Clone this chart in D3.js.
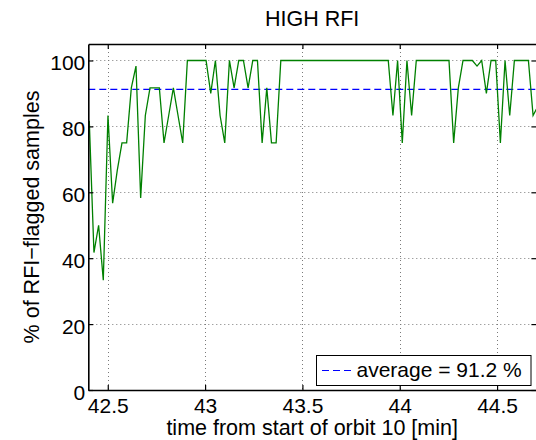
<!DOCTYPE html>
<html>
<head>
<meta charset="utf-8">
<script src="https://cdn.jsdelivr.net/npm/d3@7"></script>
<style>
  html, body { margin: 0; padding: 0; background: #fff; }
  svg { display: block; }
  text { font-family: "Liberation Sans", Arial, Helvetica, sans-serif; fill: #000; }
</style>
</head>
<body>
<svg id="chart" width="536" height="440"></svg>
<script>
// ---- data ----
const title = "HIGH RFI";
const xLabel = "time from start of orbit 10 [min]";
const yLabel = "% of RFI\u2212flagged samples";
const startTime = 42.405;      // minutes, first sample
const sampleStep = 0.024;      // minutes between samples
const flagged = [
  81.7, 41.7, 50, 33.3, 83.3, 56.7, 66.7, 75, 75, 91.7,
  98.3, 58.3, 83.3, 91.7, 91.7, 91.7, 75, 83.3, 91.7, 83.3,
  75, 100, 100, 100, 100, 100, 90, 100, 83.3, 75,
  100, 91.7, 100, 100, 91.7, 100, 100, 75, 91.7, 75,
  75, 100, 100, 100, 100, 100, 100, 100, 100, 100,
  100, 100, 100, 100, 100, 100, 100, 100, 100, 100,
  100, 100, 100, 100, 100, 83.3, 100, 75, 100, 83.3,
  100, 100, 100, 100, 100, 100, 100, 100, 75, 91.7,
  100, 100, 100, 98.3, 100, 90, 100, 100, 75, 100,
  83.3, 100, 100, 100, 100, 83.3, 86
];
const average = 91.2;
const legendLabel = "average = 91.2 %";
const xTicks = [42.5, 43, 43.5, 44, 44.5];
const yTicks = [0, 20, 40, 60, 80, 100];
const xDomain = [42.4, 44.7];
const yDomain = [0, 105];

// ---- layout ----
const svg = d3.select("#chart");
const L = 88.3, R = 536, T = 44, B = 390;
const x = d3.scaleLinear().domain(xDomain).range([L, R]);
const y = d3.scaleLinear().domain(yDomain).range([B, T]);
const points = flagged.map((v, i) => ({ t: startTime + i * sampleStep, v }));

svg.append("rect").attr("width", 536).attr("height", 440).attr("fill", "#fff");

svg.append("defs").append("clipPath").attr("id", "clip")
  .append("rect").attr("x", L).attr("y", T).attr("width", R - L).attr("height", B - T);

// grid
const grid = svg.append("g").attr("stroke", "#7a7a7a").attr("stroke-width", 1)
  .attr("stroke-dasharray", "1,3");
grid.selectAll(".gx").data(xTicks).join("line")
  .attr("x1", d => Math.round(x(d)) + 0.5).attr("x2", d => Math.round(x(d)) + 0.5)
  .attr("y1", T).attr("y2", B);
grid.selectAll(".gy").data(yTicks.filter(d => d > 0)).join("line")
  .attr("y1", d => Math.round(y(d)) + 0.5).attr("y2", d => Math.round(y(d)) + 0.5)
  .attr("x1", L).attr("x2", R - 6);

// average line
svg.append("line")
  .attr("x1", L).attr("x2", R)
  .attr("y1", y(average)).attr("y2", y(average))
  .attr("stroke", "#0000ff").attr("stroke-width", 1.2)
  .attr("stroke-dasharray", "7,4");

// data line
svg.append("path")
  .datum(points)
  .attr("clip-path", "url(#clip)")
  .attr("fill", "none")
  .attr("stroke", "#008000")
  .attr("stroke-width", 1.3)
  .attr("stroke-linejoin", "miter")
  .attr("d", d3.line().x(d => x(d.t)).y(d => y(d.v)));

// axes (box with inward ticks)
const tickLen = 5;
const fontTick = 21;
const axB = svg.append("g").attr("transform", `translate(0,${B})`)
  .call(d3.axisBottom(x).tickValues(xTicks).tickSizeInner(-tickLen).tickSizeOuter(0)
    .tickPadding(0).tickFormat(d3.format("")));
const axT = svg.append("g").attr("transform", `translate(0,${T})`)
  .call(d3.axisTop(x).tickValues(xTicks).tickSizeInner(-tickLen).tickSizeOuter(0).tickFormat(""));
const axL = svg.append("g").attr("transform", `translate(${L},0)`)
  .call(d3.axisLeft(y).tickValues(yTicks).tickSizeInner(-tickLen).tickSizeOuter(0)
    .tickPadding(0).tickFormat(d3.format("")));
const axR = svg.append("g").attr("transform", `translate(${R + 0.4},0)`)
  .call(d3.axisRight(y).tickValues(yTicks).tickSizeInner(-tickLen).tickSizeOuter(0).tickFormat(""));

[axB, axT, axL, axR].forEach(g => {
  g.select(".domain").attr("stroke", "#000").attr("stroke-width", 1.6);
  g.selectAll(".tick line").attr("stroke", "#000").attr("stroke-width", 1.2);
});
axB.selectAll(".tick text")
  .attr("font-size", fontTick).attr("font-family", "Liberation Sans, Arial, sans-serif")
  .attr("fill", "#000").attr("dy", null).attr("y", 23.3);
axL.selectAll(".tick text")
  .attr("font-size", fontTick).attr("font-family", "Liberation Sans, Arial, sans-serif")
  .attr("fill", "#000").attr("dy", null).attr("x", -3).attr("y", 9);

// title & labels
svg.append("text").attr("x", (L + R) / 2).attr("y", 26)
  .attr("text-anchor", "middle").attr("font-size", 21.5).text(title);
svg.append("text").attr("x", (L + R) / 2).attr("y", 435)
  .attr("text-anchor", "middle").attr("font-size", 21.5).text(xLabel);
svg.append("text").attr("transform", `translate(39.3,${(T + B) / 2}) rotate(-90)`)
  .attr("text-anchor", "middle").attr("font-size", 21.5).text(yLabel);

// legend
const lg = svg.append("g");
lg.append("rect").attr("x", 316.5).attr("y", 355.5).attr("width", 214.5).attr("height", 30)
  .attr("fill", "#fff").attr("stroke", "#000").attr("stroke-width", 1);
lg.append("line").attr("x1", 322).attr("x2", 352).attr("y1", 370.5).attr("y2", 370.5)
  .attr("stroke", "#0000ff").attr("stroke-width", 1.2).attr("stroke-dasharray", "7,4");
lg.append("text").attr("x", 356.5).attr("y", 377).attr("font-size", 21).text(legendLabel);
</script>
</body>
</html>
